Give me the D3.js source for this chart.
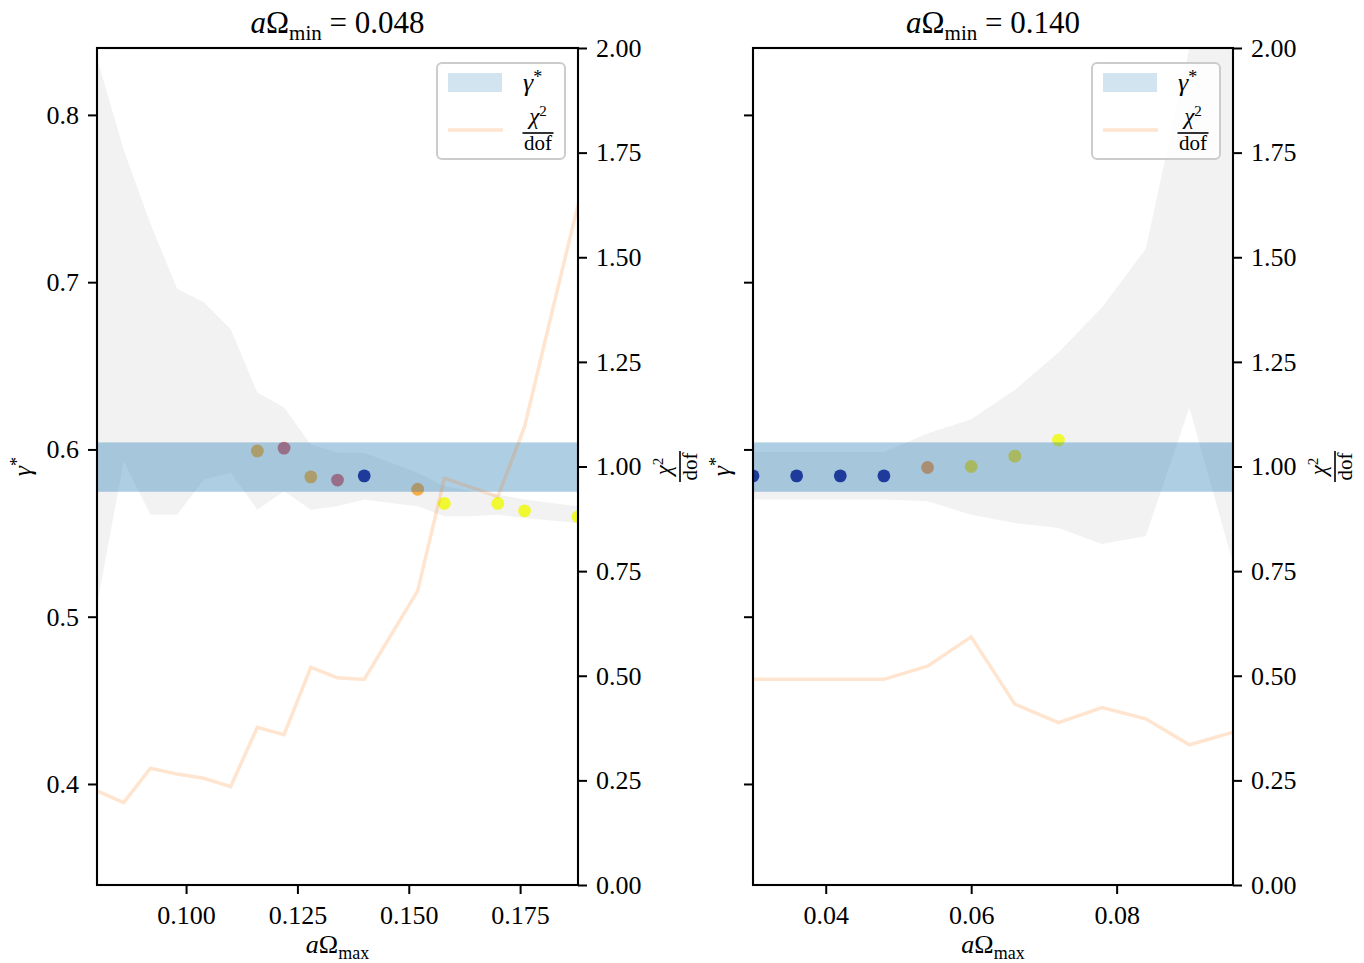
<!DOCTYPE html>
<html><head><meta charset="utf-8">
<script src="https://cdn.jsdelivr.net/npm/d3@7"></script>
<style>
body{margin:0;background:#fff}
svg text{font-family:"Liberation Serif","Times New Roman",serif;fill:#000}
</style>
</head><body>
<svg id="c" width="1364" height="963"></svg>
<script>
// ---------------- data ----------------
// left panel (aΩ_min = 0.048)
const leftX      = [0.080,0.086,0.092,0.098,0.104,0.110,0.116,0.122,0.128,0.134,0.140,0.146,0.152,0.158,0.164,0.170,0.176,0.182,0.188];
const leftChi2   = [0.225,0.197,0.279,0.265,0.255,0.235,0.377,0.359,0.520,0.495,0.491,0.597,0.703,0.972,0.950,0.928,1.095,1.362,1.625];
const leftUpper  = [0.834,0.779,0.735,0.696,0.688,0.672,0.634,0.625,0.603,0.598,0.598,0.592,0.586,0.578,0.575,0.573,0.570,0.568,0.566];
const leftLower  = [0.507,0.593,0.561,0.561,0.582,0.586,0.564,0.575,0.564,0.566,0.570,0.568,0.566,0.560,0.560,0.561,0.559,0.5575,0.556];
const leftDotX   = [0.116,0.122,0.128,0.134,0.140,0.152,0.158,0.170,0.176,0.188];
const leftDotY   = [0.5991,0.6008,0.5836,0.5817,0.5842,0.5762,0.5677,0.5677,0.5633,0.5598];
const leftDotC   = [0.82,0.58,0.82,0.58,0.0,0.80,1.0,1.0,1.0,1.0];
const leftXTicks = [0.100,0.125,0.150,0.175];

// right panel (aΩ_min = 0.140)
const rightX      = [0.030,0.036,0.042,0.048,0.054,0.060,0.066,0.072,0.078,0.084,0.090,0.096];
const rightChi2   = [0.4915,0.4915,0.4915,0.4915,0.523,0.593,0.432,0.388,0.424,0.397,0.335,0.365];
const rightUpper  = [0.5985,0.5985,0.5985,0.5985,0.6095,0.618,0.6355,0.658,0.685,0.720,0.840,0.950];
const rightLower  = [0.570,0.570,0.570,0.570,0.569,0.561,0.556,0.553,0.5435,0.5483,0.625,0.532];
const rightDotX   = [0.030,0.036,0.042,0.048,0.054,0.060,0.066,0.072];
const rightDotY   = [0.5842,0.5842,0.5842,0.5842,0.5892,0.5898,0.596,0.6056];
const rightDotC   = [0.0,0.0,0.0,0.0,0.75,0.93,0.93,1.0];
const rightXTicks = [0.04,0.06,0.08];

const titles      = ["0.048","0.140"];
const gammaBand   = [0.5747,0.6042];
const gammaTicks  = [0.4,0.5,0.6,0.7,0.8];
const chi2Ticks   = [0,0.25,0.5,0.75,1.0,1.25,1.5,1.75,2.0];

// ---------------- layout ----------------
const svg = d3.select("#c");
const TOP = 48, BOT = 885;
const TICK = 26;
const yG = d3.scaleLinear().domain([0.3396,0.840]).range([BOT,TOP]);
const yC = d3.scaleLinear().domain([0,2]).range([BOT,TOP]);

const panels = [
  {l:97, r:578, xd:[0.080,0.188], x:leftX, chi2:leftChi2, up:leftUpper, lo:leftLower,
   dx:leftDotX, dy:leftDotY, dc:leftDotC, xt:leftXTicks, xf:d3.format(".3f"), title:titles[0], ylab:true},
  {l:753, r:1233, xd:[0.030,0.096], x:rightX, chi2:rightChi2, up:rightUpper, lo:rightLower,
   dx:rightDotX, dy:rightDotY, dc:rightDotC, xt:rightXTicks, xf:d3.format(".2f"), title:titles[1], ylab:false}
];

function fracLabel(g){
  const num = g.append("text").attr("text-anchor","middle").attr("y",-9).style("font-size","23px");
  num.append("tspan").style("font-style","italic").text("χ");
  num.append("tspan").attr("dy",-8).style("font-size","15px").text("2");
  g.append("line").attr("x1",-15.5).attr("x2",15.5).attr("y1",0).attr("y2",0)
    .attr("stroke","#000").attr("stroke-width",1.6);
  g.append("text").attr("text-anchor","middle").attr("y",17).style("font-size","21px").text("dof");
}
function gammaLabel(t){
  t.append("tspan").style("font-style","italic").text("γ");
  t.append("tspan").attr("dy",-8).style("font-size","18px").text("*");
}

panels.forEach((p,i)=>{
  const x = d3.scaleLinear().domain(p.xd).range([p.l,p.r]);
  const g = svg.append("g");
  const clipId = "clip"+i;
  svg.append("clipPath").attr("id",clipId).append("rect")
    .attr("x",p.l).attr("y",TOP).attr("width",p.r-p.l).attr("height",BOT-TOP);
  const plot = g.append("g").attr("clip-path",`url(#${clipId})`);

  // gray uncertainty band
  const area = d3.area().x((d,j)=>x(p.x[j])).y0((d,j)=>yG(p.lo[j])).y1((d,j)=>yG(p.up[j]));
  plot.append("path").datum(p.x).attr("d",area).attr("fill","#808080").attr("fill-opacity",0.1);

  // scatter dots
  plot.selectAll("circle.dot").data(p.dx).join("circle").attr("class","dot")
    .attr("cx",(d)=>x(d)).attr("cy",(d,j)=>yG(p.dy[j])).attr("r",6.4)
    .attr("fill",(d,j)=>d3.interpolatePlasma(p.dc[j])).attr("fill-opacity",0.92);

  // gamma* band
  plot.append("rect").attr("x",p.l).attr("width",p.r-p.l)
    .attr("y",yG(gammaBand[1])).attr("height",yG(gammaBand[0])-yG(gammaBand[1]))
    .attr("fill","#1f77b4").attr("fill-opacity",0.36);

  // chi2 line
  const line = d3.line().x((d,j)=>x(p.x[j])).y((d,j)=>yC(p.chi2[j]));
  plot.append("path").datum(p.x).attr("d",line).attr("fill","none")
    .attr("stroke","#ff7f0e").attr("stroke-opacity",0.2).attr("stroke-width",3.5).attr("stroke-linejoin","miter");

  // axes
  const ax = d3.axisBottom(x).tickValues(p.xt).tickFormat(p.xf).tickSize(9).tickPadding(8).tickSizeOuter(0);
  const gx = g.append("g").attr("transform",`translate(0,${BOT})`).call(ax);
  const ayl = d3.axisLeft(yG).tickValues(gammaTicks).tickFormat(p.ylab? d3.format(".1f") : ()=>"").tickSize(9).tickPadding(9).tickSizeOuter(0);
  const gyl = g.append("g").attr("transform",`translate(${p.l},0)`).call(ayl);
  const ayr = d3.axisRight(yC).tickValues(chi2Ticks).tickFormat(d3.format(".2f")).tickSize(9).tickPadding(9).tickSizeOuter(0);
  const gyr = g.append("g").attr("transform",`translate(${p.r},0)`).call(ayr);
  [gx,gyl,gyr].forEach(a=>{
    a.select(".domain").remove();
    a.selectAll(".tick line").attr("stroke","#000").attr("stroke-width",2);
    a.selectAll(".tick text").style("font-size",TICK+"px").attr("fill","#000");
  });
  gx.selectAll(".tick text").attr("dy","0.85em");

  // frame
  g.append("rect").attr("x",p.l).attr("y",TOP).attr("width",p.r-p.l).attr("height",BOT-TOP)
    .attr("fill","none").attr("stroke","#000").attr("stroke-width",2.1);

  const cx = (p.l+p.r)/2;
  // title
  const t = g.append("text").attr("x",cx).attr("y",33).attr("text-anchor","middle").style("font-size","31px");
  t.append("tspan").style("font-style","italic").text("a");
  t.append("tspan").text("Ω");
  t.append("tspan").attr("dy",7).style("font-size","21px").text("min");
  t.append("tspan").attr("dy",-7).text(" = "+p.title);

  // x label
  const xl = g.append("text").attr("x",cx).attr("y",953).attr("text-anchor","middle").style("font-size","26px");
  xl.append("tspan").style("font-style","italic").text("a");
  xl.append("tspan").text("Ω");
  xl.append("tspan").attr("dy",6).style("font-size","18px").text("max");

  // y labels
  const yl = g.append("text").attr("text-anchor","middle").style("font-size","26px")
    .attr("transform",`translate(${p.l-(i===0?66:23)},${(TOP+BOT)/2}) rotate(-90)`);
  gammaLabel(yl);
  const yr = g.append("g").attr("transform",`translate(${p.r+102},${(TOP+BOT)/2}) rotate(-90)`);
  fracLabel(yr);

  // legend
  const lg = g.append("g").attr("transform",`translate(${p.r-141},63)`);
  lg.append("rect").attr("x",0).attr("y",0).attr("width",128).attr("height",96).attr("rx",5)
    .attr("fill","#fff").attr("fill-opacity",0.8).attr("stroke","#cccccc").attr("stroke-width",2);
  lg.append("rect").attr("x",11).attr("y",10).attr("width",54).attr("height",19)
    .attr("fill","#1f77b4").attr("fill-opacity",0.2);
  lg.append("line").attr("x1",11).attr("x2",66).attr("y1",67).attr("y2",67)
    .attr("stroke","#ff7f0e").attr("stroke-opacity",0.2).attr("stroke-width",3.5);
  const lt = lg.append("text").attr("x",86).attr("y",28).style("font-size","26px");
  gammaLabel(lt);
  const lf = lg.append("g").attr("transform","translate(101,70)");
  fracLabel(lf);
});
</script>
</body></html>
